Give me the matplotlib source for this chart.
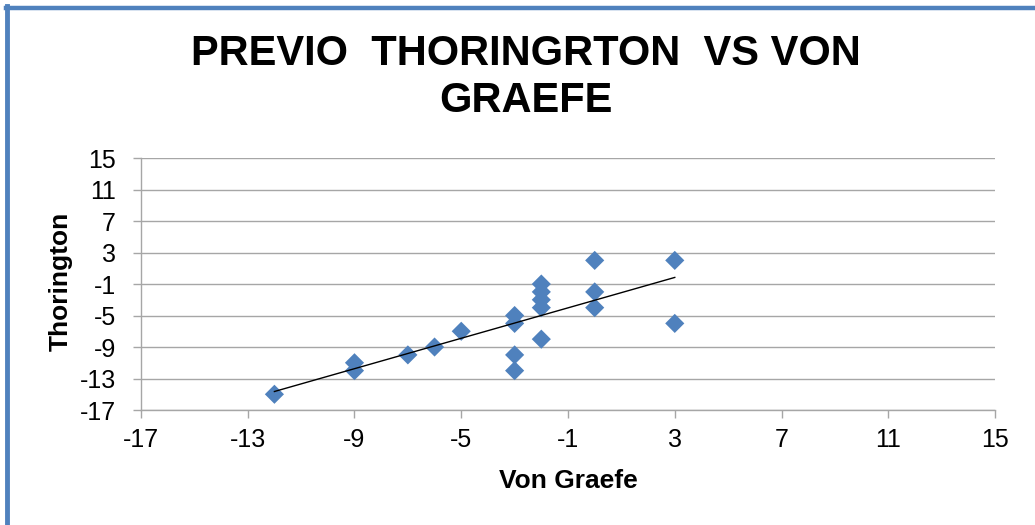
import numpy as np
import matplotlib
matplotlib.use("Agg")
import matplotlib.pyplot as plt
from matplotlib.lines import Line2D

plt.rcParams["font.family"] = ["Liberation Sans", "DejaVu Sans"]
plt.rcParams["axes.unicode_minus"] = False

# values
von_graefe = [-12, -9, -9, -7, -6, -5, -3, -3, -3, -3,
              -2, -2, -2, -2, -2, 0, 0, 0, 3, 3]
thorington = [-15, -11, -12, -10, -9, -7, -5, -6, -10, -12,
              -1, -2, -3, -4, -8, 2, -2, -4, 2, -6]
ticks = [-17, -13, -9, -5, -1, 3, 7, 11, 15]

blue = "#4F81BD"
grid_grey = "#A6A6A6"

fig = plt.figure(figsize=(10.35, 5.25), dpi=100)
ax = fig.add_axes([0.1362, 0.219, 0.8252, 0.480])

ax.scatter(von_graefe, thorington, marker="D", s=95, color=blue,
           edgecolors="none", zorder=3)

# linear trendline over the data range
x = np.array(von_graefe, dtype=float)
y = np.array(thorington, dtype=float)
slope, intercept = np.polyfit(x, y, 1)
xs = np.array([x.min(), x.max()])
ax.plot(xs, slope * xs + intercept, color="black", lw=1.0, zorder=4)

ax.set_xlim(-17, 15)
ax.set_ylim(-17, 15)
ax.set_xticks(ticks)
ax.set_yticks(ticks)
ax.tick_params(labelsize=18, length=6, width=1, color=grid_grey)
ax.tick_params(axis="x", pad=7)
ax.tick_params(axis="y", pad=12)
ax.grid(axis="y", color=grid_grey, lw=1)
ax.set_axisbelow(True)
for side in ("top", "right"):
    ax.spines[side].set_visible(False)
for side in ("left", "bottom"):
    ax.spines[side].set_color(grid_grey)
    ax.spines[side].set_linewidth(1)

ax.set_xlabel("Von Graefe", fontsize=19, fontweight="bold")
ax.set_ylabel("Thorington", fontsize=19, fontweight="bold")
ax.xaxis.set_label_coords(0.5, -0.235)
ax.yaxis.set_label_coords(-0.080, 0.51)

fig.text(0.508, 0.852, "PREVIO  THORINGRTON  VS VON\nGRAEFE", ha="center",
         va="center", fontsize=30, fontweight="bold", linespacing=1.22)

# blue frame on the top and left edges
fig.add_artist(Line2D([0.0055, 1.0], [0.985, 0.985], color=blue, lw=3.2,
                      transform=fig.transFigure))
fig.add_artist(Line2D([0.0068, 0.0068], [0.0, 0.988], color=blue, lw=3.5,
                      transform=fig.transFigure))

fig.savefig("out.png", dpi=100)
